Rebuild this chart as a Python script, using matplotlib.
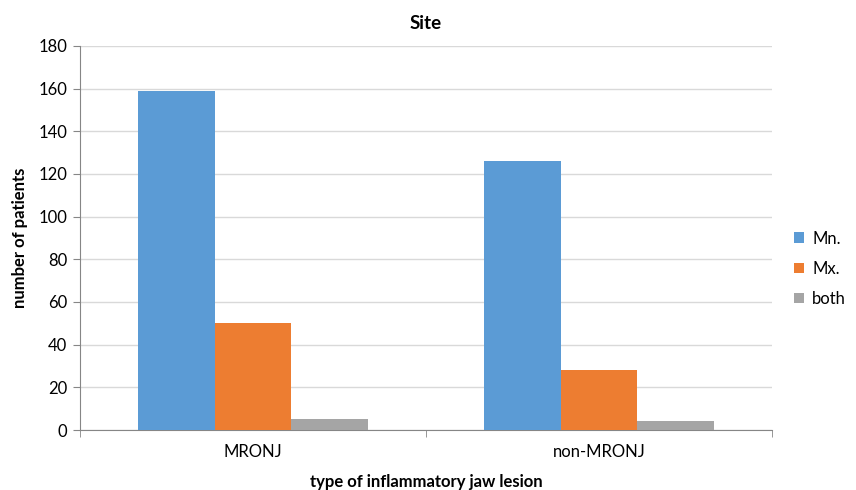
import numpy as np
import matplotlib.pyplot as plt

plt.rcParams['font.family'] = ['Lato', 'DejaVu Sans']

# Nombre de patients par site et par type de lésion
categories = ['MRONJ', 'non-MRONJ']
series_names = ['Mn.', 'Mx.', 'both']
mn_values = [159, 126]
mx_values = [50, 28]
both_values = [5, 4]

colors = ['#5b9bd5', '#ed7d31', '#a5a5a5']

fig = plt.figure(figsize=(8.56, 4.9), dpi=100)
ax = fig.add_axes([80 / 856, 60 / 490, 692 / 856, 384 / 490])

x = np.arange(len(categories))
width = 1 / 4.5
for i, (name, vals) in enumerate(zip(series_names, [mn_values, mx_values, both_values])):
    ax.bar(x + (i - 1) * width, vals, width, color=colors[i], label=name, zorder=3)

ax.set_xlim(-0.5, 1.5)
ax.set_ylim(0, 180)
ax.set_yticks(np.arange(0, 181, 20))
ax.set_xticks(x)
ax.set_xticklabels(categories)
ax.set_xticks([-0.5, 0.5, 1.5], minor=True)
ax.tick_params(axis='x', which='major', length=0, pad=10, labelsize=12)
ax.tick_params(axis='x', which='minor', length=5, color='#868686')
ax.tick_params(axis='y', length=5, color='#868686', pad=4, labelsize=12)

ax.grid(axis='y', color='#d9d9d9', linewidth=1, zorder=0)
for side in ['top', 'right']:
    ax.spines[side].set_visible(False)
ax.spines['left'].set_color('#868686')
ax.spines['bottom'].set_color('#868686')

ax.set_title('Site', fontsize=13.5, fontweight='bold', pad=12)
ax.set_xlabel('type of inflammatory jaw lesion', fontsize=12, fontweight='bold', labelpad=10)
ax.set_ylabel('number of patients', fontsize=12, fontweight='bold', labelpad=8)

ax.legend(loc='center left', bbox_to_anchor=(1.01, 0.42), frameon=False,
          fontsize=12, handlelength=0.6, handleheight=0.6, labelspacing=0.85,
          handletextpad=0.5)

fig.savefig('out.png', dpi=100)
